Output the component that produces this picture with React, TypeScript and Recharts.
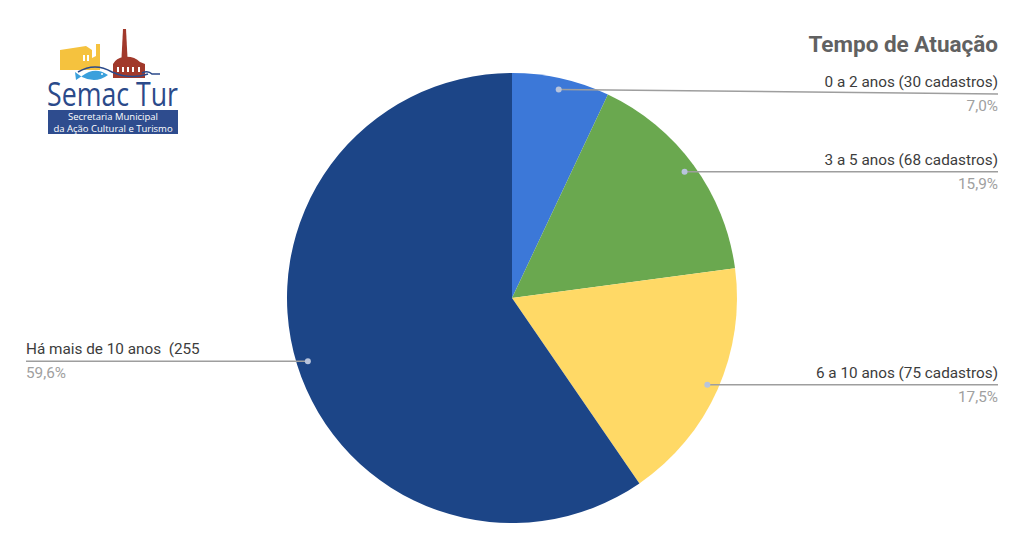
import React from "react";
import { PieChart, Pie, Cell } from "recharts";

const categories = [
  "0 a 2 anos (30 cadastros)",
  "3 a 5 anos (68 cadastros)",
  "6 a 10 anos (75 cadastros)",
  "Há mais de 10 anos  (255",
];
const values = [30, 68, 75, 255];
const percentLabels = ["7,0%", "15,9%", "17,5%", "59,6%"];
const colors = ["#3c78d8", "#6aa84f", "#ffd966", "#1c4587"];

const data = categories.map((name, i) => ({ name, value: values[i] }));

const FONT = "Roboto, 'Noto Sans', sans-serif";
const RAD = Math.PI / 180;

const renderLabel = (props: any) => {
  const { cx, cy, midAngle, outerRadius, index } = props;
  const r = outerRadius * 0.95;
  const x = cx + r * Math.cos(-midAngle * RAD);
  const y = cy + r * Math.sin(-midAngle * RAD);
  const right = x > cx;
  const endX = right ? 998 : 26;
  const lineY = Math.max(y, 94);
  return (
    <g>
      <line x1={x} y1={y} x2={endX} y2={lineY} stroke="#9e9e9e" strokeWidth={1.5} />
      <circle cx={x} cy={y} r={3} fill="#b8c4dc" />
      <text
        x={endX}
        y={lineY - 7}
        textAnchor={right ? "end" : "start"}
        fontFamily={FONT}
        fontSize={15.3}
        fill="#3c3c3c"
        style={{ whiteSpace: "pre" }}
      >
        {categories[index]}
      </text>
      <text
        x={endX}
        y={lineY + 17}
        textAnchor={right ? "end" : "start"}
        fontFamily={FONT}
        fontSize={15.3}
        fill="#a0a0a0"
      >
        {percentLabels[index]}
      </text>
    </g>
  );
};

const Logo = () => (
  <svg
    width={160}
    height={125}
    style={{ position: "absolute", left: 36, top: 20 }}
    viewBox="36 20 160 125"
  >
    {/* yellow building */}
    <polygon points="60,50 86,46 92,50 92,58 96,56 96,44 100,44 100,70 60,70" fill="#f5c23e" />
    <rect x={83} y={55} width={2} height={6} fill="#fff" />
    <rect x={87} y={55} width={2} height={6} fill="#fff" />
    {/* red building with chimney */}
    <polygon points="123,29 126,29 127.5,58 121.5,58" fill="#a1392b" />
    <path d="M113,78 L113,64 Q116,58 124,57 Q134,56 140,62 L145,64 L145,78 Z" fill="#a1392b" />
    <rect x={117} y={67} width={2} height={5} fill="#fff" />
    <rect x={122} y={67} width={2} height={5} fill="#fff" />
    <rect x={127} y={67} width={2} height={5} fill="#fff" />
    <rect x={132} y={67} width={2} height={5} fill="#fff" />
    <rect x={138} y={67} width={2} height={5} fill="#fff" />
    {/* wave */}
    <path d="M78,72 Q95,62 112,72 Q130,80 148,74" fill="none" stroke="#2b4a8a" strokeWidth={1.6} />
    <path d="M142,73 Q148,70 152,74 L160,74" fill="none" stroke="#2b4a8a" strokeWidth={1.6} />
    {/* fish */}
    <path d="M82,76 Q95,66 108,75 Q96,84 82,77 L75,72 L76,80 Z" fill="#3aa0dc" />
    <circle cx={102} cy={74} r={1} fill="#fff" />
    {/* text */}
    <text
      x={47}
      y={106}
      fontFamily="'Open Sans', 'DejaVu Sans', sans-serif"
      fontSize={33}
      fill="#2b4a8a"
      textLength={131}
      lengthAdjust="spacingAndGlyphs"
      style={{ whiteSpace: "pre" }}
    >
      Semac Tur
    </text>
    <rect x={48} y={110} width={130} height={24} fill="#2e4c8e" />
    <text x={113} y={120} textAnchor="middle" fontFamily="'Open Sans', sans-serif" fontSize={9.5} fill="#ffffff">
      Secretaria Municipal
    </text>
    <text x={113} y={131.5} textAnchor="middle" fontFamily="'Open Sans', sans-serif" fontSize={9.5} fill="#ffffff">
      da Ação Cultural e Turismo
    </text>
  </svg>
);

export default function App() {
  return (
    <div
      style={{
        position: "absolute",
        left: 0,
        top: 0,
        width: 1024,
        height: 550,
        background: "#ffffff",
        overflow: "hidden",
      }}
    >
      <PieChart
        width={1024}
        height={550}
        margin={{ top: 0, right: 0, bottom: 0, left: 0 }}
        style={{ position: "absolute", left: 0, top: 0 }}
      >
        <text
          x={998}
          y={52}
          textAnchor="end"
          fontFamily={FONT}
          fontSize={22.5}
          fontWeight="bold"
          fill="#616161"
        >
          Tempo de Atuação
        </text>
        <Pie
          data={data}
          dataKey="value"
          nameKey="name"
          cx={512}
          cy={298}
          outerRadius={225}
          startAngle={90}
          endAngle={-270}
          stroke="none"
          label={renderLabel}
          labelLine={false}
          isAnimationActive={false}
        >
          {data.map((d, i) => (
            <Cell key={d.name} fill={colors[i]} />
          ))}
        </Pie>
      </PieChart>
      <Logo />
    </div>
  );
}
